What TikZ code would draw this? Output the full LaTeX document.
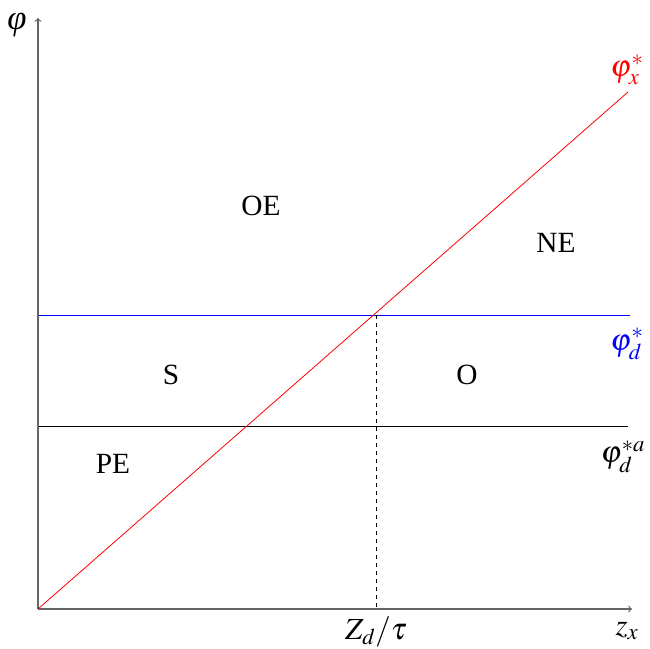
\documentclass[tikz,border=0pt]{standalone}
\usepackage{mathptmx}
\usepackage{fontspec}
\setmainfont{Liberation Serif}
\begin{document}
\begin{tikzpicture}[x=0.75pt,y=-0.75pt,
  axis/.style={draw=black!60,line width=0.9pt,->},
  lbl/.style={inner sep=0pt,font=\fontsize{22}{26}\selectfont},
  mlbl/.style={inner sep=0pt,font=\fontsize{23}{27}\selectfont},
  hline/.style={line width=0.6pt}]
\useasboundingbox (0,0) rectangle (650,649);
\coordinate (O) at (38,609);
\coordinate (ytop) at (38,18);
\coordinate (xend) at (632,609);
\coordinate (rend) at (628,92);
\coordinate (bl) at (38,315);
\coordinate (br) at (630,315);
\coordinate (kl) at (38,426);
\coordinate (kr) at (628,426);
\coordinate (dtop) at (376,315);
\coordinate (dbot) at (376,609);
\draw[hline,line width=0.75pt,blue] (bl) -- (br);
\draw[hline,black] (kl) -- (kr);
\draw[hline,dashed] (dtop) -- (dbot);
\draw[axis] (O) -- (ytop);
\draw[axis] (O) -- (xend);
\draw[hline,red] (O) -- (rend);
\node[inner sep=0pt,font=\fontsize{26}{28}\selectfont] (phi) at (17,25) {\itshape φ};
\node[mlbl,red] (phix) at (627,70) {$\varphi_x^*$};
\node[mlbl,blue] (phid) at (627,344) {$\varphi_d^*$};
\node[mlbl] (phida) at (623,457) {$\varphi_d^{*a}$};
\node[mlbl] (zx) at (627,631) {$z_x$};
\node[mlbl] (zd) at (376,632) {$Z_d/\tau$};
\node[lbl] (OE) at (261,206) {OE};
\node[lbl] (NE) at (556,243) {NE};
\node[lbl] (S) at (171,375) {S};
\node[lbl] (Ob) at (467,375) {O};
\node[lbl] (PE) at (113,464) {PE};
\end{tikzpicture}
\end{document}
